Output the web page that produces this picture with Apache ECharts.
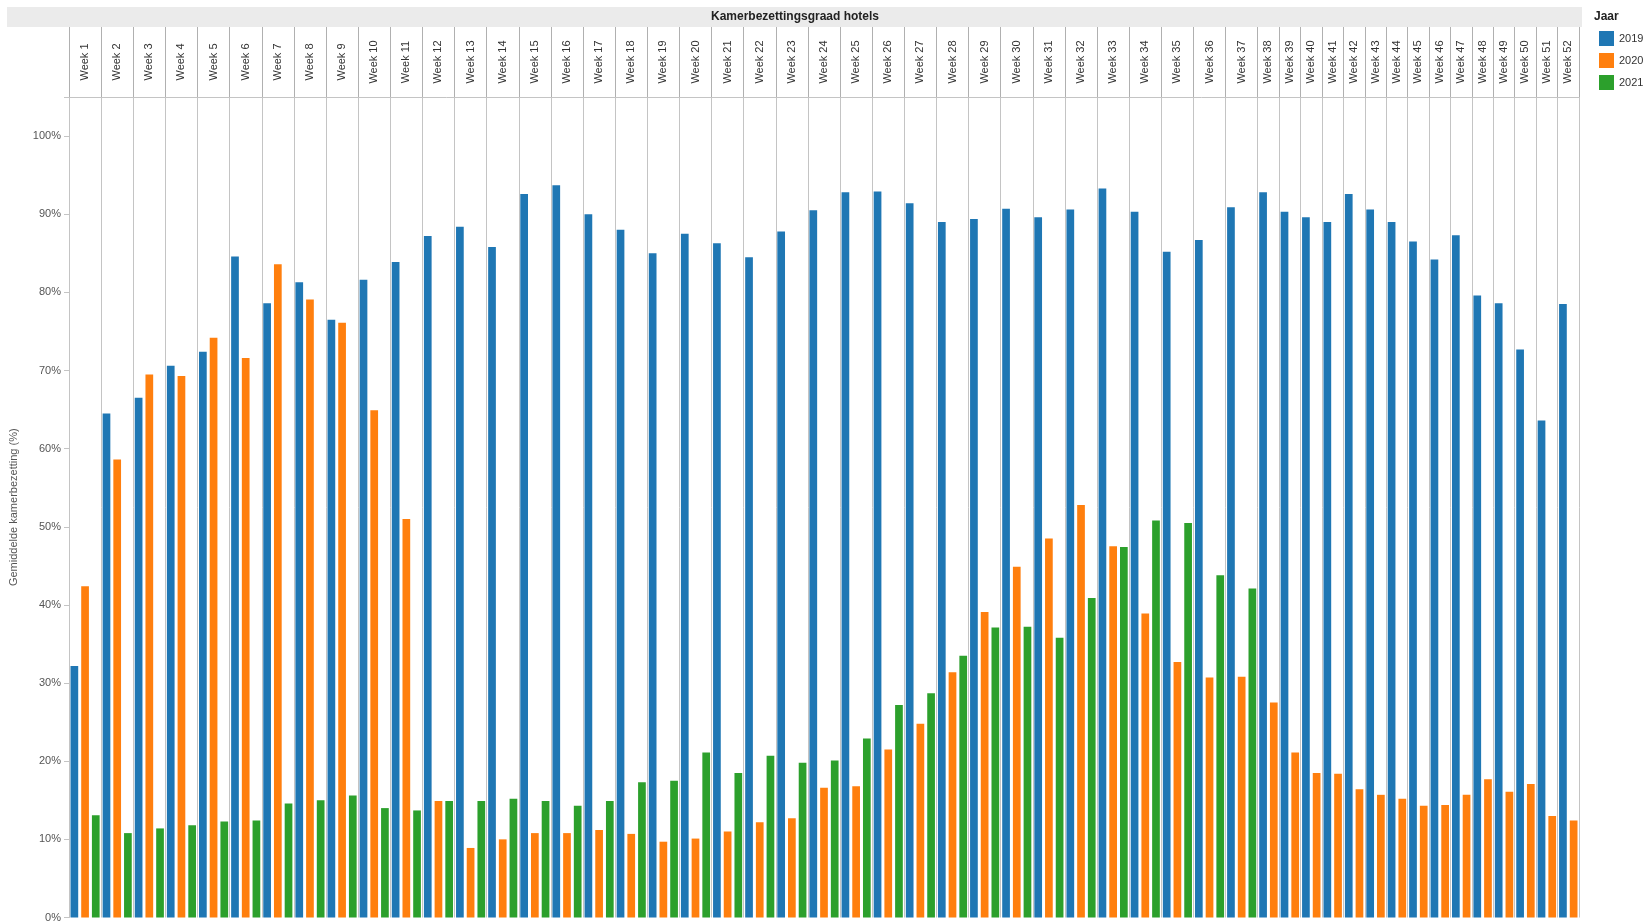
<!DOCTYPE html>
<html>
<head>
<meta charset="utf-8">
<title>Kamerbezettingsgraad hotels</title>
<script src="https://cdn.jsdelivr.net/npm/echarts@6/dist/echarts.min.js"></script>
<style>
  html, body { margin: 0; padding: 0; background: #fff; }
  #main { width: 1645px; height: 923px; }
</style>
</head>
<body>
<div id="main"></div>
<script>
const weeks = Array.from({ length: 52 }, (_, i) => 'Week ' + (i + 1));
const years = ['2019', '2020', '2021'];
const colors = ['#1f77b4', '#ff7f0e', '#2ca02c'];

// gemiddelde kamerbezetting (%) per week
const occ2019 = [32.2, 64.5, 66.5, 70.6, 72.4, 84.6, 78.6, 81.3, 76.5, 81.6, 83.9, 87.2, 88.4,
  85.8, 92.6, 93.7, 90.0, 88.0, 85.0, 87.5, 86.3, 84.5, 87.8, 90.5, 92.8, 92.9,
  91.4, 89.0, 89.4, 90.7, 89.6, 90.6, 93.3, 90.3, 85.2, 86.7, 90.9, 92.8, 90.3,
  89.6, 89.0, 92.6, 90.6, 89.0, 86.5, 84.2, 87.3, 79.6, 78.6, 72.7, 63.6, 78.5];
const occ2020 = [42.4, 58.6, 69.5, 69.3, 74.2, 71.6, 83.6, 79.1, 76.1, 64.9, 51.0, 14.9, 8.9,
  10.0, 10.8, 10.8, 11.2, 10.7, 9.7, 10.1, 11.0, 12.2, 12.7, 16.6, 16.8, 21.5,
  24.8, 31.4, 39.1, 44.9, 48.5, 52.8, 47.5, 38.9, 32.7, 30.7, 30.8, 27.5, 21.1,
  18.5, 18.4, 16.4, 15.7, 15.2, 14.3, 14.4, 15.7, 17.7, 16.1, 17.1, 13.0, 12.4];
// 2021 loopt tot en met week 37
const occ2021 = [13.1, 10.8, 11.4, 11.8, 12.3, 12.4, 14.6, 15.0, 15.6, 14.0, 13.7, 14.9, 14.9,
  15.2, 14.9, 14.3, 14.9, 17.3, 17.5, 21.1, 18.5, 20.7, 19.8, 20.1, 22.9, 27.2,
  28.7, 33.5, 37.1, 37.2, 35.8, 40.9, 47.4, 50.8, 50.5, 43.8, 42.1];

const byYear = [occ2019, occ2020, occ2021];

// one slot per bar, weeks only hold the years that have data
const slots = [];
const weekStart = [];
weeks.forEach((w, i) => {
  weekStart.push(slots.length);
  years.forEach((y, k) => {
    if (byYear[k][i] != null) slots.push({ week: i, year: k });
  });
});
weekStart.push(slots.length);

// top header axis in half-slot steps so labels can sit in the middle of each week
const nHalf = slots.length * 2;
const topCats = Array.from({ length: nHalf + 1 }, (_, i) => String(i));
const boundaries = new Set(weekStart.map(s => s * 2));
const centerLabel = {};
weeks.forEach((w, i) => { centerLabel[weekStart[i] + weekStart[i + 1]] = w; });

const font = 'Liberation Sans, Arial, sans-serif';
const lineColor = '#c4c4c4';

const chart = echarts.init(document.getElementById('main'));

chart.setOption({
  animation: false,
  textStyle: { fontFamily: font },
  graphic: [
    { type: 'rect', shape: { x: 7, y: 7, width: 1575, height: 20 }, style: { fill: '#ebebeb' }, silent: true },
    { type: 'text', x: 795, y: 17, style: { text: 'Kamerbezettingsgraad hotels', fill: '#222',
        font: 'bold 12px ' + font, align: 'center', verticalAlign: 'middle' } },
    { type: 'text', x: 1594, y: 17, style: { text: 'Jaar', fill: '#222',
        font: 'bold 12px ' + font, align: 'left', verticalAlign: 'middle' } }
  ],
  legend: {
    orient: 'vertical', left: 1594, top: 26,
    itemWidth: 15, itemHeight: 15, itemGap: 7, icon: 'rect',
    textStyle: { fontSize: 11, color: '#333', fontFamily: font },
    data: years
  },
  grid: { left: 68, right: 66, top: 97, bottom: 1 },
  xAxis: [
    {
      type: 'category', data: slots.map(s => weeks[s.week] + ' ' + years[s.year]),
      show: false
    },
    {
      type: 'category', position: 'top', boundaryGap: false, data: topCats,
      axisLine: { show: true, lineStyle: { color: lineColor } },
      axisTick: { show: true, length: 70, interval: idx => boundaries.has(idx), lineStyle: { color: '#b0b0b0' } },
      splitLine: { show: true, interval: idx => boundaries.has(idx), lineStyle: { color: lineColor } },
      axisLabel: {
        interval: 0, rotate: -90, align: 'center', verticalAlign: 'middle', margin: 35,
        fontSize: 11, color: '#333', fontFamily: font,
        formatter: (v, idx) => centerLabel[idx] || ''
      }
    }
  ],
  yAxis: {
    type: 'value', min: 0, max: 105, interval: 10,
    name: 'Gemiddelde kamerbezetting (%)', nameLocation: 'middle', nameGap: 50, nameRotate: 90,
    nameTextStyle: { fontSize: 11, color: '#555', fontFamily: font },
    axisLine: { show: true, lineStyle: { color: lineColor } },
    axisTick: { show: true, length: 5, lineStyle: { color: lineColor } },
    axisLabel: { fontSize: 11, color: '#555', margin: 8, fontFamily: font,
      formatter: v => v > 100 ? '' : v + '%' },
    splitLine: { show: false }
  },
  series: years.map((y, k) => ({
    name: y,
    type: 'bar',
    xAxisIndex: 0,
    barWidth: '72%',
    barGap: '-100%',
    itemStyle: { color: colors[k] },
    data: slots.map(s => (s.year === k ? byYear[k][s.week] : null))
  }))
});
</script>
</body>
</html>
